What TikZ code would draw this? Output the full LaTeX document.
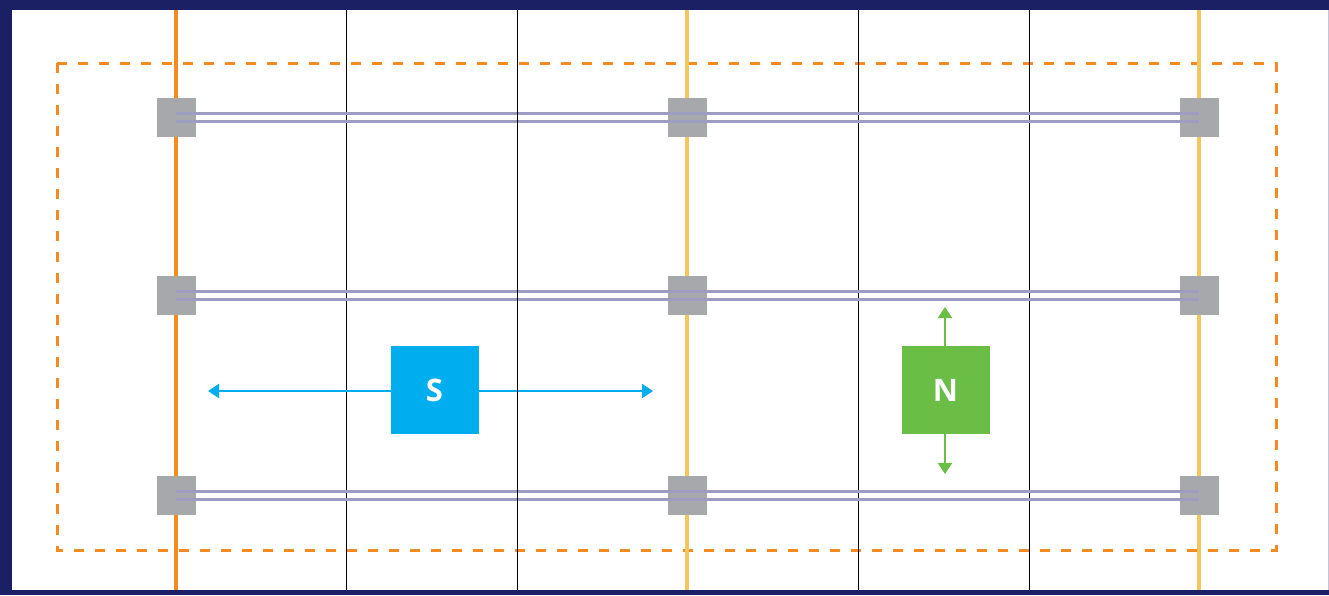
\documentclass[tikz,border=0pt]{standalone}
\usepackage{fontspec}
\setmainfont{Open Sans}
\usetikzlibrary{arrows.meta}
\definecolor{navy}{HTML}{1B1F64}
\definecolor{orng}{HTML}{F58A20}
\definecolor{yell}{HTML}{F3C75E}
\definecolor{gryb}{HTML}{A7A8AB}
\definecolor{lav}{HTML}{9F9CC4}
\definecolor{sblue}{HTML}{00AEEF}
\definecolor{ngreen}{HTML}{6ABD45}
\definecolor{thin}{HTML}{555555}
\tikzset{
  junction/.style={fill=gryb, draw=none, minimum size=39pt, inner sep=0pt},
  rail/.style={lav, line width=3pt},
  gridline/.style={thin, line width=1pt},
  bigbox/.style={minimum size=88pt, inner sep=0pt, text=white, font=\fontsize{31}{31}\selectfont\bfseries},
  dblarrow/.style={line width=2pt, {Triangle[length=11pt,width=14pt]}-{Triangle[length=11pt,width=14pt]}}
}
\begin{document}
\begin{tikzpicture}[x=1pt,y=-1pt]
\useasboundingbox (0,0) rectangle (1329,595);
% frame
\fill[navy] (0,0) rectangle (1329,595);
\fill[white] (12,10) rectangle (1328,590);
\fill[lav!60] (1328,10) rectangle (1329,590);
% dashed boundary
\draw[orng, line width=3pt, dash pattern=on 10pt off 11pt] (57,63) rectangle (1276,550);
% thin grid lines
\foreach \x/\n in {346/a,517/b,858/c,1029/d}{
  \coordinate (t\n) at (\x,10);
  \coordinate (b\n) at (\x,590);
  \draw[gridline] (t\n) -- (b\n);
}
% thick vertical lines
\coordinate (tO) at (176,10); \coordinate (bO) at (176,590);
\coordinate (tY1) at (687,10); \coordinate (bY1) at (687,590);
\coordinate (tY2) at (1199,10); \coordinate (bY2) at (1199,590);
\draw[orng, line width=4pt] (tO) -- (bO);
\draw[yell, line width=4pt] (tY1) -- (bY1);
\draw[yell, line width=4pt] (tY2) -- (bY2);
% junctions
\foreach \y/\r in {117/1,295/2,495/3}{
  \node[junction] (j\r a) at (176,\y) {};
  \node[junction] (j\r b) at (687,\y) {};
  \node[junction] (j\r c) at (1199,\y) {};
  \draw[rail] ([yshift=-4pt]j\r a.center) -- ([yshift=-4pt]j\r c.center);
  \draw[rail] ([yshift=4pt]j\r a.center) -- ([yshift=4pt]j\r c.center);
}
% S box
\coordinate (sl) at (208,391);
\coordinate (sr) at (653,391);
\draw[sblue, dblarrow] (sl) -- (sr);
\node[bigbox, fill=sblue] (S) at (434.5,390) {S};
% N box
\coordinate (nt) at (945,307);
\coordinate (nb) at (945,474);
\draw[ngreen, dblarrow] (nt) -- (nb);
\node[bigbox, fill=ngreen] (N) at (945.5,390) {N};
\draw[gridline] (tb) -- (bb);
\end{tikzpicture}
\end{document}
